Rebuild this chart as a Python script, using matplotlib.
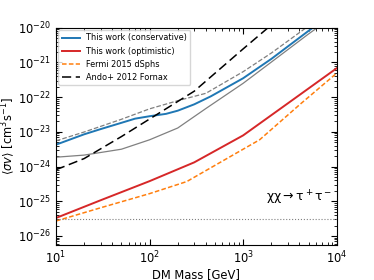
import numpy as np
import matplotlib
matplotlib.use('Agg')
import matplotlib.pyplot as plt

# DM mass [GeV] and <sigma v> [cm^3 s^-1]
mass_cons = [10, 20, 30, 50, 70, 100, 150, 200, 300, 450, 1000, 2000, 5000, 10000]
sv_cons = [4.27e-24, 8.5e-24, 1.2e-23, 1.82e-23, 2.4e-23, 2.82e-23, 3.3e-23,
           4.07e-23, 6.2e-23, 1.05e-22, 3.5e-22, 1.26e-21, 8.1e-21, 3.2e-20]

mass_band = [10, 20, 50, 100, 200, 400, 1000, 2000, 5000, 10000]
sv_band_hi = [5.5e-24, 9.9e-24, 2.3e-23, 4.6e-23, 7.9e-23, 1.29e-22, 5.4e-22,
              1.86e-21, 1.12e-20, 4.0e-20]
sv_band_lo = [1.86e-24, 2.14e-24, 3.16e-24, 5.9e-24, 1.29e-23, 4.7e-23, 2.5e-22,
              1.02e-21, 6.6e-21, 2.5e-20]

mass_opt = [10, 30, 100, 300, 1000, 3000, 10000]
sv_opt = [3.3e-26, 1.07e-25, 3.8e-25, 1.32e-24, 7.9e-24, 6.6e-23, 6.8e-22]

mass_fermi = [10, 30, 100, 250, 1000, 1500, 4000, 10000]
sv_fermi = [2.7e-26, 6.5e-26, 1.66e-25, 3.7e-25, 3.16e-24, 5.9e-24, 6.0e-23, 4.9e-22]

mass_ando = [10, 20, 50, 100, 300, 1000, 2000, 10000]
sv_ando = [8.1e-25, 1.7e-24, 7.3e-24, 2.34e-23, 1.48e-22, 2.45e-21, 1.2e-20, 5.0e-19]

sv_thermal = 3e-26

plt.rcParams['font.size'] = 8.3
plt.rcParams['mathtext.fontset'] = 'dejavusans'

fig = plt.figure(figsize=(3.74, 2.8), dpi=100)
ax = fig.add_axes([0.1497, 0.125, 0.7505, 0.776])

ax.plot(mass_band, sv_band_hi, color='grey', ls='--', lw=0.9)
ax.plot(mass_band, sv_band_lo, color='grey', ls='-', lw=0.9)
ax.plot(mass_cons, sv_cons, color='#1f77b4', lw=1.4, label='This work (conservative)')
ax.plot(mass_opt, sv_opt, color='#d62728', lw=1.4, label='This work (optimistic)')
ax.plot(mass_fermi, sv_fermi, color='#ff7f0e', ls='--', lw=1.1, dashes=(3, 1.5),
        label='Fermi 2015 dSphs')
ax.plot(mass_ando, sv_ando, color='k', lw=1.1, dashes=(6, 3), label='Ando+ 2012 Fornax')
ax.axhline(sv_thermal, color='grey', ls=':', lw=0.8)

ax.set_xscale('log')
ax.set_yscale('log')
ax.set_xlim(10, 1e4)
ax.set_ylim(5.5e-27, 1e-20)
ax.set_xlabel('DM Mass [GeV]', labelpad=1)
ax.set_ylabel(r'$\langle\sigma v\rangle$ [cm$^3$s$^{-1}$]', labelpad=1)
ax.tick_params(which='both', direction='in', top=True, right=True)
ax.tick_params(which='major', length=4)
ax.tick_params(which='minor', length=2)

ax.text(0.985, 0.216, r'$\mathrm{\chi\chi \rightarrow \tau^+\tau^-}$', transform=ax.transAxes,
        ha='right', va='center', fontsize=9)

ax.legend(loc='upper left', fontsize=5.9, borderaxespad=0.3, handlelength=2.2)

fig.savefig('out.png', dpi=100)
